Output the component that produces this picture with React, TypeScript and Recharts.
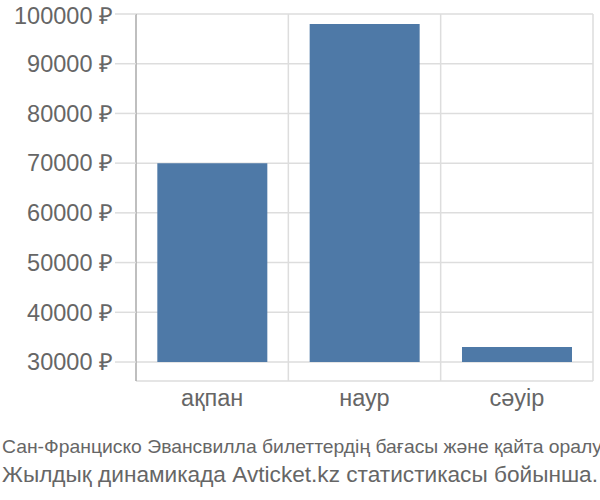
import { Bar, BarChart, CartesianGrid, XAxis, YAxis } from "recharts";

const months = ["ақпан", "наур", "сәуір"];
const prices = [70000, 98000, 33000];
const priceTicks = [30000, 40000, 50000, 60000, 70000, 80000, 90000, 100000];
const baseline = 30000;

const captionLines = [
  "Сан-Франциско Эвансвилла билеттердің бағасы және қайта оралу",
  "Жылдық динамикада Avticket.kz статистикасы бойынша.",
];

const rows = months.map((m, i) => ({ month: m, range: [baseline, prices[i]] }));

const FONT = '"Liberation Sans", Arial, sans-serif';
const INK = "#666";
const GRID = "#ddd";

export default function App() {
  return (
    <div style={{ position: "absolute", left: 0, top: 0, width: 600, height: 500, background: "#fff" }}>
      <BarChart
        width={600}
        height={420}
        data={rows}
        margin={{ top: 14, right: 7, left: 0, bottom: 0 }}
        barCategoryGap="14%"
      >
        <CartesianGrid
          stroke={GRID}
          strokeWidth={1.5}
          verticalCoordinatesGenerator={({ offset }: any) =>
            months.map((_, i) => offset.left + ((i + 1) * offset.width) / months.length)
          }
        />
        <XAxis
          dataKey="month"
          axisLine={false}
          tickLine={false}
          tickSize={0}
          tickMargin={8}
          height={39}
          tick={{ fill: INK, fontSize: 23.5, fontFamily: FONT }}
        />
        <YAxis
          width={136}
          domain={[26180, 100000]}
          ticks={priceTicks}
          allowDataOverflow
          axisLine={{ stroke: "#aaa", strokeWidth: 1.5 }}
          tickLine={{ stroke: GRID, strokeWidth: 1.5 }}
          tickSize={21}
          tickMargin={2}
          tickFormatter={(v: number) => `${v} ₽`}
          tick={{ fill: INK, fontSize: 23.5, fontFamily: FONT }}
        />
        <Bar dataKey="range" fill="#4e79a7" isAnimationActive={false} />
      </BarChart>
      <svg width={600} height={80} style={{ position: "absolute", left: 0, top: 420 }}>
        <text
          x={2}
          y={33}
          fontSize={19}
          fontFamily={FONT}
          fill={INK}
          textLength={600}
          lengthAdjust="spacingAndGlyphs"
        >
          {captionLines[0]}
        </text>
        <text
          x={2}
          y={62}
          fontSize={22}
          fontFamily={FONT}
          fill={INK}
          textLength={596}
          lengthAdjust="spacingAndGlyphs"
        >
          {captionLines[1]}
        </text>
      </svg>
    </div>
  );
}
